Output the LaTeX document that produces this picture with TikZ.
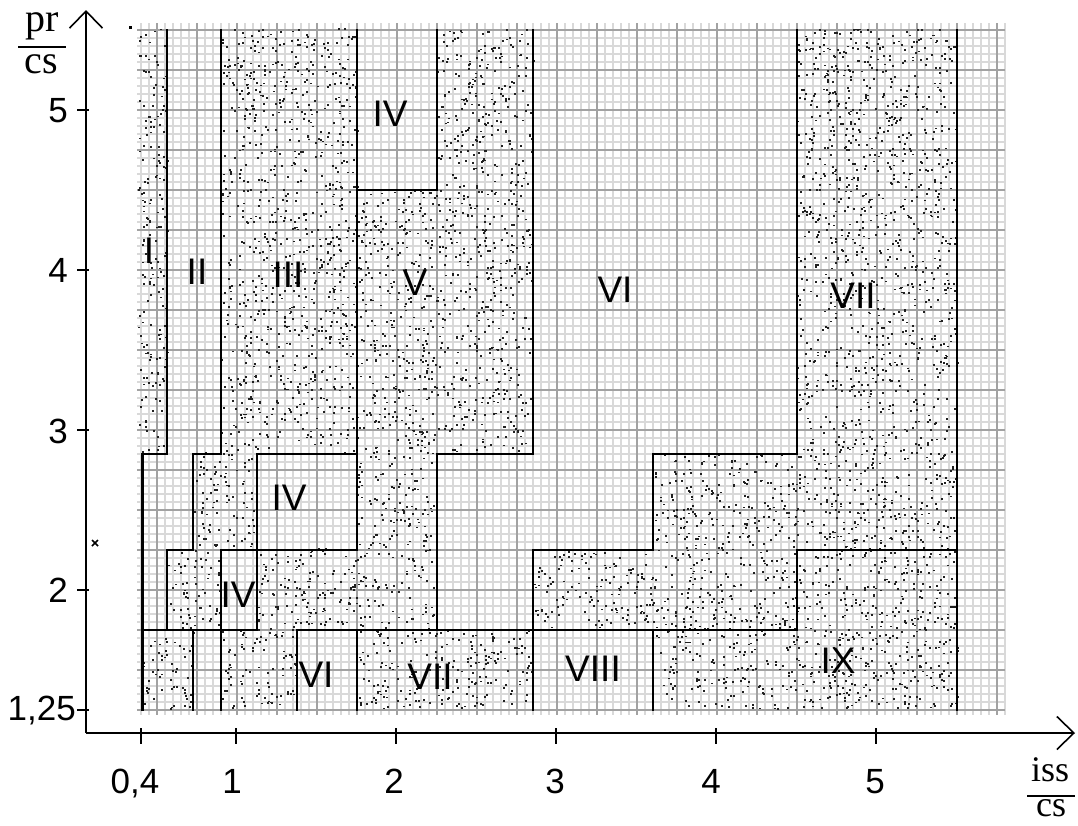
\documentclass[tikz,border=0pt]{standalone}
\usepackage{fontspec}
\setmainfont{Liberation Sans}
\newfontfamily\serifx{Liberation Serif}
\usetikzlibrary{arrows.meta}

\definecolor{gridminor}{HTML}{D9D9D9}
\definecolor{gridmajor}{HTML}{A2A2A2}
\definecolor{dotcol}{HTML}{202020}

% region boundaries (data units)
\def\gxa{0.41}\def\gxb{0.5625}\def\gxc{0.725}\def\gxd{0.9}
\def\gxe{1.125}\def\gxf{1.375}\def\gxg{1.75}\def\gxh{2.25}
\def\gxi{2.85}\def\gxj{3.6}\def\gxk{4.5}\def\gxl{5.5}
\def\gyT{5.5}\def\gyA{4.5}\def\gyB{2.85}\def\gyC{2.25}\def\gyD{1.75}\def\gyE{1.25}

% random stipple inside a rectangle x1 y1 x2 y2
\newcommand\stipplerect[4]{%
  \pgfmathtruncatemacro\stipn{(#3-#1)*(#4-#2)*390}%
  \foreach \k in {1,...,\stipn}{%
    \fill[dotcol] ({#1+rnd*(#3-#1)},{#2+rnd*(#4-#2)}) rectangle +(2pt,1.8pt);%
  }%
}

\begin{document}
\begin{tikzpicture}[x=1pt,y=-1pt,
  minorgrid/.style={draw=gridminor, line width=1.6pt},
  majorgrid/.style={draw=gridmajor, line width=1.3pt},
  border/.style={line width=2.5pt, line join=miter, line cap=rect},
  axis/.style={line width=1.6pt},
  region/.style={font=\fontsize{37}{40}\selectfont, inner sep=0pt},
  ticklabel/.style={font=\fontsize{35}{40}\selectfont, inner sep=0pt},
  axislabel/.style={font=\serifx\fontsize{40}{44}\selectfont, inner sep=0pt, anchor=base},
  xaxislabel/.style={font=\serifx\fontsize{36}{40}\selectfont, inner sep=0pt, anchor=base}]

\useasboundingbox (0,0) rectangle (1078,825);
\fill[white] (0,0) rectangle (1078,825);

% ---------- chart area in data units ----------
\begin{scope}[shift={(77,910)}, x=160pt, y=160pt]
  % fine grid
  \foreach \i in {8,...,116}
    \draw[minorgrid] ({\i*0.05},1.22) -- ({\i*0.05},5.545);
  \foreach \j in {25,...,110}
    \draw[minorgrid] (0.375,{\j*0.05}) -- (5.8,{\j*0.05});
  % coarse grid
  \foreach \i in {2,...,23}
    \draw[majorgrid] ({\i*0.25},1.22) -- ({\i*0.25},5.545);
  \foreach \j in {5,...,22}
    \draw[majorgrid] (0.375,{\j*0.25}) -- (5.8,{\j*0.25});

  % stippled zones
  \pgfmathsetseed{2024}
  \stipplerect{0.38}{\gyB}{\gxb}{\gyT}
  \stipplerect{\gxd}{\gyB}{\gxg}{\gyT}
  \stipplerect{\gxc}{\gyC}{\gxe}{\gyB}
  \stipplerect{\gxb}{\gyD}{\gxd}{\gyC}
  \stipplerect{\gxa}{\gyE}{\gxc}{\gyD}
  \stipplerect{\gxh}{\gyA}{\gxi}{\gyT}
  \stipplerect{\gxg}{\gyB}{\gxi}{\gyA}
  \stipplerect{\gxg}{\gyC}{\gxh}{\gyB}
  \stipplerect{\gxe}{\gyD}{\gxh}{\gyC}
  \stipplerect{\gxd}{\gyE}{\gxf}{\gyD}
  \stipplerect{\gxg}{\gyE}{\gxi}{\gyD}
  \stipplerect{\gxk}{\gyC}{\gxl}{\gyT}
  \stipplerect{\gxj}{\gyC}{\gxk}{\gyB}
  \stipplerect{\gxi}{\gyD}{\gxk}{\gyC}
  \stipplerect{\gxj}{\gyE}{\gxl}{\gyD}
  \stipplerect{\gxk}{\gyD}{\gxl}{\gyC}

  % zone borders
  \draw[border] (\gxb,\gyT) -- (\gxb,\gyB) -- (\gxa,\gyB) -- (\gxa,\gyE);
  \draw[border] (\gxd,\gyT) -- (\gxd,\gyB) -- (\gxc,\gyB) -- (\gxc,\gyC)
                -- (\gxb,\gyC) -- (\gxb,\gyD);
  \draw[border] (\gxa,\gyD) -- (\gxe,\gyD);
  \draw[border] (\gxc,\gyD) -- (\gxc,\gyE);
  \draw[border] (\gxd,\gyC) -- (\gxd,\gyE);
  \draw[border] (\gxd,\gyC) -- (\gxg,\gyC);
  \draw[border] (\gxe,\gyD) -- (\gxe,\gyB) -- (\gxg,\gyB);
  \draw[border] (\gxg,\gyT) -- (\gxg,\gyC);
  \draw[border] (\gxh,\gyT) -- (\gxh,\gyA) -- (\gxg,\gyA);
  \draw[border] (\gxi,\gyT) -- (\gxi,\gyB) -- (\gxh,\gyB) -- (\gxh,\gyD);
  \draw[border] (\gxf,\gyE) -- (\gxf,\gyD) -- (\gxk,\gyD) -- (\gxk,\gyC) -- (\gxl,\gyC);
  \draw[border] (\gxg,\gyD) -- (\gxg,\gyE);
  \draw[border] (\gxi,\gyE) -- (\gxi,\gyC) -- (\gxj,\gyC) -- (\gxj,\gyB)
                -- (\gxk,\gyB) -- (\gxk,\gyT);
  \draw[border] (\gxj,\gyD) -- (\gxj,\gyE);
  \draw[border] (\gxl,\gyT) -- (\gxl,\gyE);
\end{scope}

% ---------- zone labels ----------
\node[region] (zI)     at (149,251) {I};
\node[region] (zII)    at (197,272) {II};
\node[region] (zIII)   at (288,275) {III};
\node[region] (zIVa)   at (390,114) {IV};
\node[region] (zV)     at (415,283) {V};
\node[region] (zVI)    at (615,290) {VI};
\node[region] (zVII)   at (853,296) {VII};
\node[region] (zIVb)   at (289,498) {IV};
\node[region] (zIVc)   at (238,595) {IV};
\node[region] (zVIb)   at (316,675) {VI};
\node[region] (zVIIb)  at (430,677) {VII};
\node[region] (zVIII)  at (593,669) {VIII};
\node[region] (zIX)    at (838,661) {IX};

% ---------- axes ----------
\coordinate (O) at (86,733);
\coordinate (Ytip) at (86,10);
\coordinate (Xtip) at (1075,733);
\draw[axis, -{Straight Barb[length=17pt, width=33pt, line width=1.6pt]}] (O) -- (Ytip);
\draw[axis, -{Straight Barb[length=17pt, width=33pt, line width=1.6pt]}] (O) -- (Xtip);

% y ticks and labels
\foreach \yy in {110,270,430,590,710}
  \draw[axis] (77,\yy) -- (89,\yy);
\node[ticklabel, anchor=east] (ty5)   at (68,111) {5};
\node[ticklabel, anchor=east] (ty4)   at (68,270) {4};
\node[ticklabel, anchor=east] (ty3)   at (68,431) {3};
\node[ticklabel, anchor=east] (ty2)   at (68,590) {2};
\node[ticklabel, anchor=east] (ty125) at (76,711) {1,25};

% x ticks and labels
\foreach \xx in {141,236,396,556,716,876}
  \draw[axis] (\xx,728) -- (\xx,744);
\node[ticklabel, anchor=base] (tx04) at (135,793) {0,4};
\node[ticklabel, anchor=base] (tx1)  at (232,793) {1};
\node[ticklabel, anchor=base] (tx2)  at (394,793) {2};
\node[ticklabel, anchor=base] (tx3)  at (555,793) {3};
\node[ticklabel, anchor=base] (tx4)  at (711,793) {4};
\node[ticklabel, anchor=base] (tx5)  at (875,793) {5};

% axis titles as fractions
\node[axislabel] (ynum) at (42,31) {pr};
\draw[line width=1.6pt] (18,47) -- (66,47);
\node[axislabel] (yden) at (41,73) {cs};
\node[xaxislabel] (xnum) at (1050,781) {iss};
\draw[line width=1.6pt] (1027,796) -- (1075,796);
\node[xaxislabel] (xden) at (1051,816) {cs};

% small stray marks
\draw[line width=1.5pt] (92,540) -- (98,546) (92,546) -- (98,540);
\fill (129,26) rectangle (131.5,28.5);
\end{tikzpicture}
\end{document}
